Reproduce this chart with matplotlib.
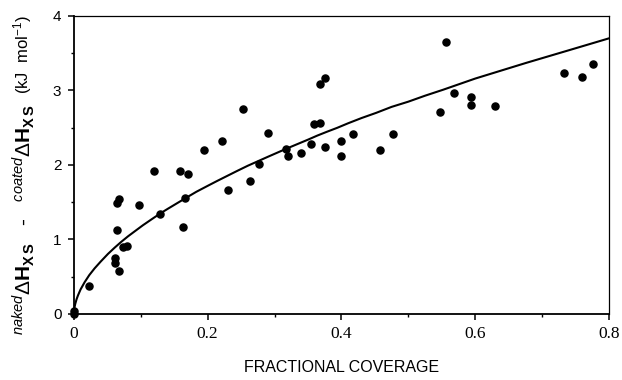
import matplotlib
matplotlib.use("Agg")
import matplotlib.pyplot as plt
from matplotlib.ticker import MultipleLocator

# measured points (fractional coverage, naked - coated excess enthalpy)
coverage = [0.0, 0.0, 0.0225, 0.061, 0.061, 0.068, 0.074, 0.079, 0.064, 0.064,
            0.068, 0.097, 0.129, 0.1625, 0.166, 0.120, 0.159, 0.170, 0.194, 0.222,
            0.253, 0.231, 0.264, 0.277, 0.2895, 0.317, 0.320, 0.340, 0.354, 0.3587,
            0.368, 0.3687, 0.3756, 0.376, 0.399, 0.400, 0.417, 0.458, 0.477, 0.547,
            0.556, 0.569, 0.594, 0.594, 0.630, 0.733, 0.760, 0.776]
dH = [0.0, 0.04, 0.376, 0.748, 0.68, 0.58, 0.895, 0.913, 1.13, 1.486,
      1.54, 1.46, 1.34, 1.164, 1.553, 1.915, 1.915, 1.883, 2.205, 2.32,
      2.75, 1.67, 1.79, 2.01, 2.43, 2.215, 2.12, 2.157, 2.286, 2.55,
      2.57, 3.083, 3.168, 2.246, 2.12, 2.32, 2.41, 2.205, 2.416, 2.71,
      3.655, 2.966, 2.91, 2.805, 2.79, 3.23, 3.177, 3.35]

# fitted curve
fit_x = [0.0, 0.001, 0.002, 0.004, 0.006, 0.01, 0.016, 0.023, 0.031, 0.04,
         0.051, 0.061, 0.071, 0.081, 0.091, 0.103, 0.116, 0.129, 0.14, 0.153,
         0.166, 0.183, 0.2, 0.214, 0.228, 0.244, 0.26, 0.275, 0.29, 0.304,
         0.318, 0.334, 0.35, 0.364, 0.378, 0.394, 0.41, 0.43, 0.452, 0.475,
         0.5, 0.525, 0.552, 0.576, 0.6, 0.638, 0.676, 0.708, 0.74, 0.77, 0.8]
fit_y = [0.0, 0.092, 0.135, 0.198, 0.247, 0.33, 0.426, 0.522, 0.613, 0.703,
         0.807, 0.891, 0.97, 1.043, 1.11, 1.19, 1.27, 1.349, 1.41, 1.48,
         1.55, 1.64, 1.72, 1.785, 1.848, 1.92, 1.99, 2.05, 2.11, 2.165,
         2.22, 2.28, 2.34, 2.395, 2.445, 2.50, 2.56, 2.63, 2.70, 2.78,
         2.85, 2.93, 3.01, 3.085, 3.16, 3.265, 3.37, 3.455, 3.54, 3.62, 3.70]

plt.rcParams["mathtext.fontset"] = "custom"
plt.rcParams["mathtext.rm"] = "Liberation Sans"
plt.rcParams["mathtext.it"] = "Liberation Sans:italic"
plt.rcParams["mathtext.bf"] = "Liberation Sans:bold"

fig = plt.figure(figsize=(6.22, 3.80), dpi=100)
ax = fig.add_axes([0.1188, 0.1737, 0.8602, 0.7842])

ax.plot(fit_x, fit_y, color="black", lw=1.5, zorder=2)
ax.scatter(coverage, dH, s=26, color="black", zorder=3, clip_on=False)

ax.set_xlim(0, 0.8)
ax.set_ylim(0, 4)
ax.set_xticks([0, 0.2, 0.4, 0.6, 0.8])
ax.set_xticklabels(["0", "0.2", "0.4", "0.6", "0.8"])
ax.set_yticks([0, 1, 2, 3, 4])
ax.set_yticklabels(["0", "1", "2", "3", "4"])
ax.xaxis.set_minor_locator(MultipleLocator(0.1))
ax.yaxis.set_minor_locator(MultipleLocator(0.5))
for lab in ax.get_xticklabels():
    lab.set_fontfamily("Liberation Serif")
    lab.set_fontsize(12.5)
for lab in ax.get_yticklabels():
    lab.set_fontfamily("Liberation Sans")
    lab.set_fontsize(11)
ax.tick_params(which="major", direction="out", length=4, width=1.1, pad=5)
ax.tick_params(which="minor", direction="out", length=2, width=1.0)

for side in ["left", "bottom"]:
    ax.spines[side].set_linewidth(1.3)
for side in ["top", "right"]:
    ax.spines[side].set_linewidth(0.9)

fig.text(0.5491, 1 - 368 / 380, "FRACTIONAL COVERAGE", family="Liberation Sans",
         fontsize=11.5, ha="center", va="center")

# y label: enthalpy difference part (bigger) and units part
ylab_a = (r"${}^{\mathit{naked}}\Delta\mathbf{H}_{\mathbf{X\,S}}$   -   "
          r"${}^{\mathit{coated}}\Delta\mathbf{H}_{\mathbf{X\,S}}$")
fig.text(24 / 622, 1 - 220 / 380, ylab_a, family="Liberation Sans", fontsize=15,
         rotation=90, ha="center", va="center")
fig.text(23 / 622, 1 - 55 / 380, r"(kJ  mol$^{-1}$)", family="Liberation Sans",
         fontsize=12, rotation=90, ha="center", va="center")

fig.savefig("out.png", dpi=100)
